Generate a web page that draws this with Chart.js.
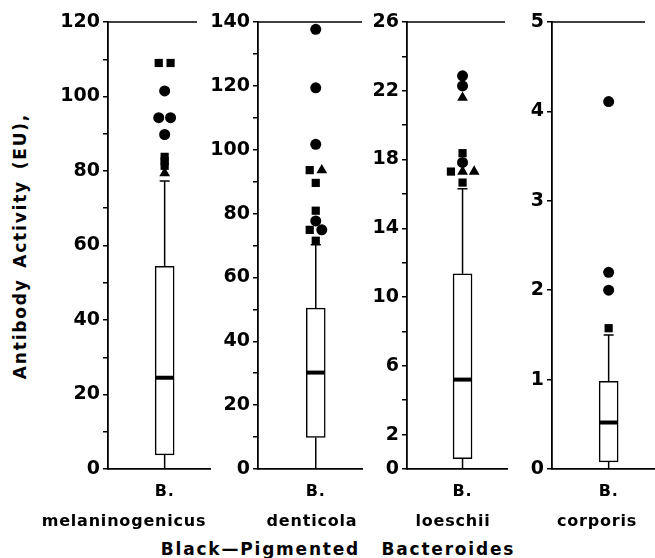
<!DOCTYPE html>
<html>
<head>
<meta charset="utf-8">
<script src="https://cdn.jsdelivr.net/npm/chart.js@4.4.0/dist/chart.umd.min.js"></script>
<style>
  html, body { margin: 0; padding: 0; background: #fff; }
  #wrap { position: relative; width: 655px; height: 558px; overflow: hidden; font-family: "DejaVu Sans", sans-serif; font-weight: bold; color: #000; }
  #wrap canvas { position: absolute; top: 0; }
  .lbl { position: absolute; white-space: pre; transform: translate(-50%, -50%); font-size: 16px; letter-spacing: 0.8px; }
  .big { font-size: 17px; letter-spacing: 1.8px; word-spacing: 3px; }
  .ytitle { transform: translate(-50%, -50%) rotate(-90deg); }
</style>
</head>
<body>
<div id="wrap"></div>
<script>
// data
const genus = "B.";
const species = ["melaninogenicus", "denticola", "loeschii", "corporis"];
const groupTitle = "Black\u2014Pigmented  Bacteroides";
const yTitle = "Antibody Activity (EU),";

const q1 = [3.8, 9.9, 0.6, 0.08];
const medians = [24.5, 30.2, 5.2, 0.52];
const q3 = [54.4, 50.4, 11.35, 0.98];
const whiskerLo = [0, 0, 0, 0];
const whiskerHi = [77.3, 70.2, 16.3, 1.5];

const yMax = [120, 140, 26, 5];
const yStep = [10, 10, 2, 1];
const yTickLabels = [
  [0, 20, 40, 60, 80, 100, 120],
  [0, 20, 40, 60, 80, 100, 120, 140],
  [0, 2, 6, 10, 14, 18, 22, 26],
  [0, 1, 2, 3, 4, 5]
];

const outlierValues = [
  [109, 109, 101.5, 94.3, 94.3, 89.8, 83.8, 82.6, 81.4, 79.4],
  [137.7, 119.4, 101.7, 93.6, 93.6, 89.6, 80.9, 77.7, 74.9, 74.9, 71.5],
  [22.87, 22.28, 21.6, 18.37, 17.83, 17.3, 17.3, 17.3, 16.66],
  [4.11, 2.2, 2.0, 1.575]
];
const outlierShapes = [
  ["rect", "rect", "circle", "circle", "circle", "circle", "rect", "rect", "rect", "triangle"],
  ["circle", "circle", "circle", "rect", "triangle", "rect", "rect", "circle", "rect", "circle", "rect"],
  ["circle", "circle", "triangle", "rect", "circle", "rect", "triangle", "triangle", "rect"],
  ["circle", "circle", "circle", "rect"]
];

// layout
const axisX = [108, 258, 407, 552];
const panelRight = [211, 363, 508, 655];
const topLineRight = [197, 362, 505, 645];
const speciesCenter = [124, 312, 453, 597];
const yScaleWidth = 60;
const jitter = 0.23;
const radius = { circle: 5.5, rect: 5.8, triangle: 6.2 };

const wrap = document.getElementById("wrap");

const boxExtras = {
  id: "boxExtras",
  beforeDatasetsDraw(chart, args, opts) {
    const { ctx, chartArea, scales: { x, y } } = chart;
    const i = opts.panel;
    const cx = x.getPixelForValue(0);
    const yHi = y.getPixelForValue(whiskerHi[i]);
    ctx.save();
    ctx.strokeStyle = "#000";
    ctx.lineWidth = 1.5;
    ctx.beginPath();
    ctx.moveTo(cx, y.getPixelForValue(q3[i]));
    ctx.lineTo(cx, yHi);
    ctx.moveTo(cx - 5, yHi);
    ctx.lineTo(cx + 5, yHi);
    ctx.moveTo(cx, y.getPixelForValue(q1[i]));
    ctx.lineTo(cx, y.getPixelForValue(whiskerLo[i]));
    ctx.stroke();
    ctx.beginPath();
    ctx.moveTo(chartArea.left, chartArea.top);
    ctx.lineTo(chartArea.left + (topLineRight[i] - axisX[i]), chartArea.top);
    ctx.stroke();
    ctx.restore();
  },
  afterDatasetsDraw(chart, args, opts) {
    const { ctx, scales: { y } } = chart;
    const i = opts.panel;
    const bar = chart.getDatasetMeta(1).data[0];
    const half = bar.width / 2 - 0.75;
    const ym = y.getPixelForValue(medians[i]);
    ctx.save();
    ctx.fillStyle = "#000";
    ctx.fillRect(bar.x - half, ym - 2, half * 2, 4);
    ctx.restore();
  }
};

function outlierPoints(i) {
  const vals = outlierValues[i];
  return vals.map((v, k) => {
    const same = vals.map((w, j) => (w === v ? j : -1)).filter(j => j >= 0);
    const slot = same.indexOf(k) - (same.length - 1) / 2;
    return { x: slot * jitter, y: v };
  });
}

species.forEach((name, i) => {
  const canvas = document.createElement("canvas");
  const left = axisX[i] - yScaleWidth;
  const width = panelRight[i] - left;
  canvas.style.left = left + "px";
  canvas.style.width = width + "px";
  canvas.style.height = "481px";
  canvas.width = width;
  canvas.height = 481;
  wrap.appendChild(canvas);

  const shapes = outlierShapes[i];
  const chart = new Chart(canvas, {
    type: "bar",
    data: {
      datasets: [
        {
          type: "scatter",
          data: outlierPoints(i),
          pointStyle: ctx => shapes[ctx.dataIndex],
          pointRadius: ctx => radius[shapes[ctx.dataIndex]],
          pointHoverRadius: ctx => radius[shapes[ctx.dataIndex]],
          backgroundColor: "#000",
          borderColor: "#000",
          borderWidth: 0,
          clip: false
        },
        {
          type: "bar",
          data: [{ x: 0, y: [q1[i], q3[i]] }],
          backgroundColor: "#fff",
          borderColor: "#000",
          borderWidth: 1.5,
          borderSkipped: false,
          barThickness: 19
        }
      ]
    },
    options: {
      responsive: false,
      maintainAspectRatio: false,
      animation: false,
      events: [],
      // autoPadding would reserve room for the point radius on the right
      layout: { autoPadding: false, padding: { top: 22, bottom: 12, left: 0, right: 0 } },
      plugins: { legend: { display: false }, tooltip: { enabled: false }, boxExtras: { panel: i } },
      scales: {
        x: {
          type: "linear",
          min: -1.1,
          max: 0.9,
          offset: false,
          grid: { display: false },
          ticks: { display: false },
          border: { display: true, color: "#000", width: 1.8 },
          afterFit: s => { s.height = 0; s.paddingLeft = 0; s.paddingRight = 0; }
        },
        y: {
          type: "linear",
          min: 0,
          max: yMax[i],
          ticks: {
            stepSize: yStep[i],
            color: "#000",
            padding: 3,
            font: { family: "'DejaVu Sans', sans-serif", weight: "bold", size: 19 },
            callback: v => (yTickLabels[i].includes(v) ? String(v) : "")
          },
          grid: { display: true, drawOnChartArea: false, drawTicks: true, tickLength: 5, color: "#000", lineWidth: 1.5 },
          border: { display: true, color: "#000", width: 1.8 },
          afterFit: s => { s.width = yScaleWidth; s.paddingTop = 0; s.paddingBottom = 0; }
        }
      }
    },
    plugins: [boxExtras]
  });

  const cx = left + chart.scales.x.getPixelForValue(0);
  addLabel(genus, cx, 490);
  addLabel(name, speciesCenter[i], 520);
});

addLabel(groupTitle, 338, 549, "big");
addLabel(yTitle, 20, 246, "big ytitle");

function addLabel(text, x, y, cls) {
  const el = document.createElement("div");
  el.className = "lbl" + (cls ? " " + cls : "");
  el.textContent = text;
  el.style.left = x + "px";
  el.style.top = y + "px";
  wrap.appendChild(el);
}
</script>
</body>
</html>
